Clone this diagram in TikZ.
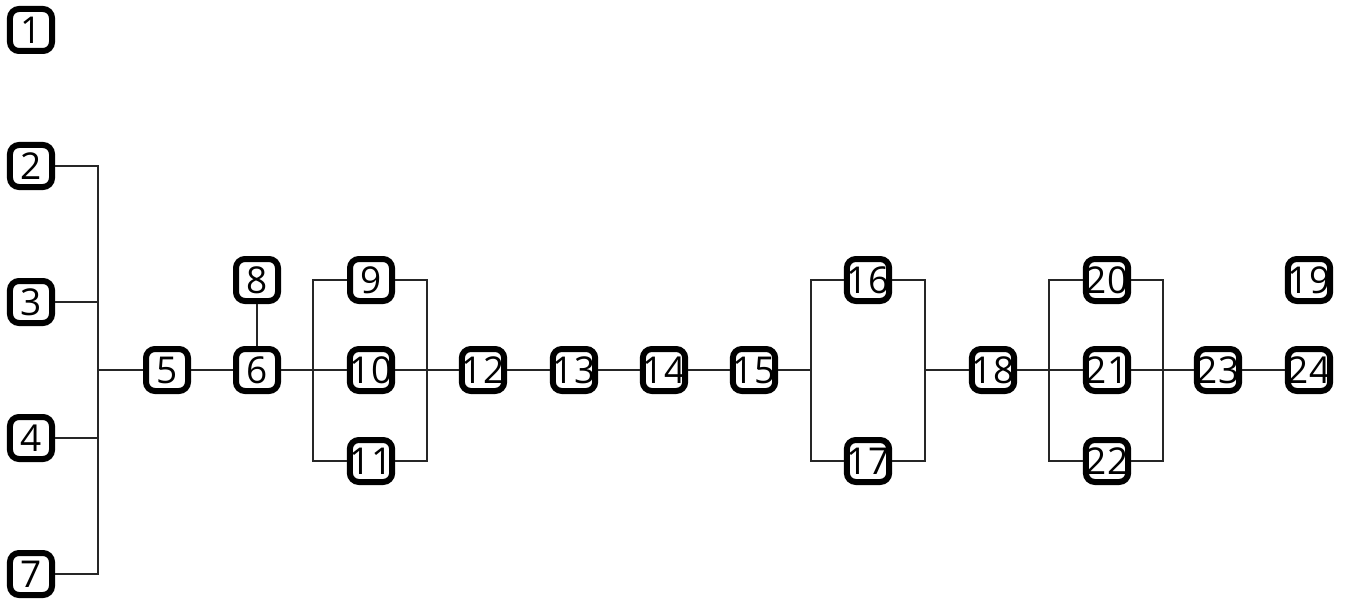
\documentclass[tikz,border=0pt]{standalone}
\usepackage{fontspec}
\setmainfont{Open Sans}
\begin{document}
\begin{tikzpicture}[x=1bp,y=-1bp,
  blk/.style={draw=black,line width=6bp,rounded corners=9bp,fill=white,
    minimum width=42bp,minimum height=42bp,inner sep=0pt,
    font=\fontsize{37bp}{37bp}\selectfont},
  wire/.style={draw=black!85,line width=1.1bp}]
\useasboundingbox (0,0) rectangle (1345,601);
\coordinate (bA) at (98,166);
\coordinate (bB) at (98,574);
\coordinate (bM) at (98,370);
\coordinate (p1t) at (313,280);
\coordinate (p1b) at (313,461);
\coordinate (q1t) at (427,280);
\coordinate (q1b) at (427,461);
\coordinate (p2t) at (811,280);
\coordinate (p2b) at (811,461);
\coordinate (p2m) at (811,370);
\coordinate (q2t) at (925,280);
\coordinate (q2b) at (925,461);
\coordinate (q2m) at (925,370);
\coordinate (p3t) at (1049,280);
\coordinate (p3b) at (1049,461);
\coordinate (q3t) at (1163,280);
\coordinate (q3b) at (1163,461);

\node[blk] (n1) at (31,30) {1};
\node[blk] (n2) at (31,166) {2};
\node[blk] (n3) at (31,302) {3};
\node[blk] (n4) at (31,438) {4};
\node[blk] (n7) at (31,574) {7};
\node[blk] (n5) at (167,370) {5};
\node[blk] (n6) at (257,370) {6};
\node[blk] (n8) at (257,280) {8};
\node[blk] (n9) at (371,280) {9};
\node[blk] (n10) at (371,370) {10};
\node[blk] (n11) at (371,461) {11};
\node[blk] (n12) at (483,370) {12};
\node[blk] (n13) at (574,370) {13};
\node[blk] (n14) at (664,370) {14};
\node[blk] (n15) at (754,370) {15};
\node[blk] (n16) at (868,280) {16};
\node[blk] (n17) at (868,461) {17};
\node[blk] (n18) at (993,370) {18};
\node[blk] (n20) at (1107,280) {20};
\node[blk] (n21) at (1107,370) {21};
\node[blk] (n22) at (1107,461) {22};
\node[blk] (n19) at (1309,280) {19};
\node[blk] (n23) at (1218,370) {23};
\node[blk] (n24) at (1309,370) {24};

\path[wire] (n2) -- (bA) -- (bB) -- (n7);
\path[wire] (n3) -- (n3 -| bA);
\path[wire] (n4) -- (n4 -| bA);
\path[wire] (bM) -- (n5);
\path[wire] (n5) -- (n6);
\path[wire] (n8) -- (n6);
\path[wire] (n6) -- (n10);
\path[wire] (n9) -- (p1t) -- (p1b) -- (n11);
\path[wire] (n9) -- (q1t) -- (q1b) -- (n11);
\path[wire] (n10) -- (n12);
\path[wire] (n12) -- (n13);
\path[wire] (n13) -- (n14);
\path[wire] (n14) -- (n15);
\path[wire] (n15) -- (p2m);
\path[wire] (n16) -- (p2t) -- (p2b) -- (n17);
\path[wire] (n16) -- (q2t) -- (q2b) -- (n17);
\path[wire] (q2m) -- (n18);
\path[wire] (n18) -- (n21);
\path[wire] (n20) -- (p3t) -- (p3b) -- (n22);
\path[wire] (n20) -- (q3t) -- (q3b) -- (n22);
\path[wire] (n21) -- (n23);
\path[wire] (n23) -- (n24);
\end{tikzpicture}
\end{document}
